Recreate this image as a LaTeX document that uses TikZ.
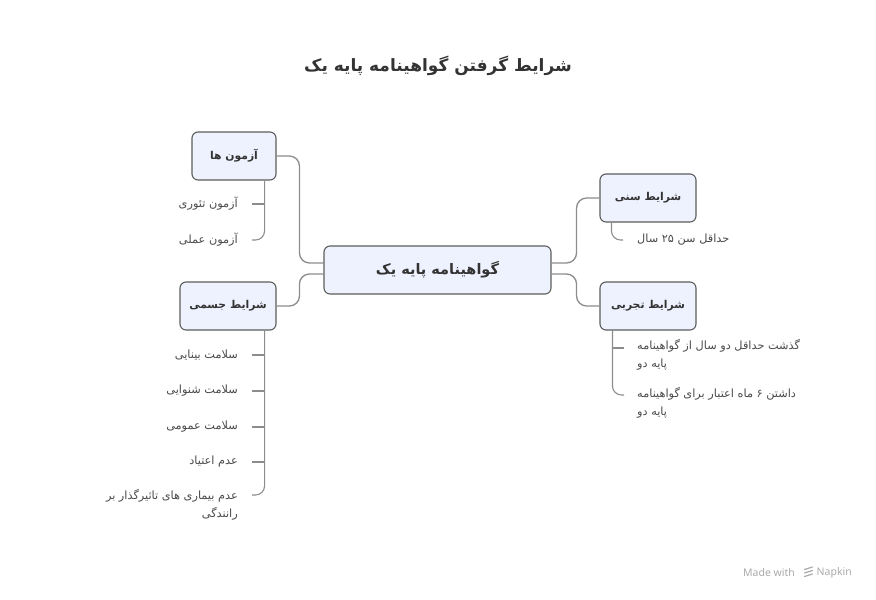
\documentclass[tikz,border=0pt]{standalone}
\usepackage{fontspec}
\setmainfont{DejaVu Sans}
\newfontfamily\fa[Script=Arabic]{DejaVu Sans}
\newfontfamily\wmfont{Noto Sans}
\TeXXeTstate=1
\usetikzlibrary{positioning}

\definecolor{boxfill}{HTML}{EEF2FE}
\definecolor{boxline}{HTML}{5C5C5C}
\definecolor{wire}{HTML}{8C8C8C}
\definecolor{inkdark}{HTML}{333333}
\definecolor{inkleaf}{HTML}{4A4A4A}
\definecolor{wmgray}{HTML}{AAAAAA}

\begin{document}
\begin{tikzpicture}
[x=1pt, y=-1pt,
hub/.style={draw=boxline, fill=boxfill, rounded corners=6pt, line width=1.1pt, minimum width=227pt, minimum height=48pt, text=inkdark, font=\fa\bfseries\fontsize{14.5}{18}\selectfont},
branch/.style={draw=boxline, fill=boxfill, rounded corners=6pt, line width=1.1pt, minimum width=96pt, minimum height=48pt, text=inkdark, font=\fa\bfseries\fontsize{10.8}{14}\selectfont},
leaf/.style={inner sep=0pt, text=inkleaf, font=\fa\fontsize{11.3}{18}\selectfont},
link/.style={wire, line width=1.3pt, rounded corners=10pt},
twig/.style={wire, line width=1.1pt, rounded corners=9pt}]
\useasboundingbox (0,0) rectangle (876,600);
% title
\node[text=inkdark, font=\fa\bfseries\fontsize{17}{20}\selectfont] (title) at (438,66) {\beginR شرایط گرفتن گواهینامه پایه یک\endR};
% hub and branches
\node[hub] (hub) at (437.5,270) {\beginR گواهینامه پایه یک\endR};
\node[branch, minimum width=84pt] (tests) at (234,156) {\beginR آزمون ها\endR};
\node[branch] (body) at (228,306) {\beginR شرایط جسمی\endR};
\node[branch] (age) at (648,198) {\beginR شرایط سنی\endR};
\node[branch] (exp) at (648,306) {\beginR شرایط تجربی\endR};
\draw[link] ([yshift=7pt]hub.west) -- ++(-24,0) |- (tests.east);
\draw[link] ([yshift=-4pt]hub.west) -- ++(-24,0) |- (body.east);
\draw[link] ([yshift=7pt]hub.east) -- ++(25,0) |- (age.west);
\draw[link] ([yshift=-4pt]hub.east) -- ++(25,0) |- (exp.west);
% tests
\node[leaf, anchor=east] (theory) at (238,204) {\beginR آزمون تئوری\endR};
\node[leaf, anchor=east] (practice) at (238,240) {\beginR آزمون عملی\endR};
\draw[twig] ([xshift=-12pt]tests.south east) |- ([xshift=14pt]practice.east);
\draw[twig] ([xshift=14pt]theory.east) -- ++(12,0);
% body
\node[leaf, anchor=east] (sight) at (238,355) {\beginR سلامت بینایی\endR};
\node[leaf, anchor=east] (hearing) at (238,391) {\beginR سلامت شنوایی\endR};
\node[leaf, anchor=east] (health) at (238,427) {\beginR سلامت عمومی\endR};
\node[leaf, anchor=east] (addict) at (238,462) {\beginR عدم اعتیاد\endR};
\node[leaf, anchor=base east, align=right] (illness) at (238,517) {\beginR عدم بیماری های تاثیرگذار بر\endR\\\beginR رانندگی\endR};
\draw[twig] ([xshift=-12pt]body.south east) |- ([xshift=14pt, yshift=22pt]illness.base east);
\foreach \n in {sight,hearing,health,addict}
  \draw[twig] ([xshift=14pt]\n.east) -- ++(12,0);
% age
\node[leaf, anchor=west] (minage) at (637,240) {\beginR حداقل سن ۲۵ سال\endR};
\draw[twig] ([xshift=12pt]age.south west) |- ([xshift=-14pt]minage.west);
% experience
\node[leaf, anchor=base west, align=left] (twoyears) at (637,367) {\beginR گذشت حداقل دو سال از گواهینامه\endR\\\beginR پایه دو\endR};
\node[leaf, anchor=base west, align=left] (sixmonths) at (637,415) {\beginR داشتن ۶ ماه اعتبار برای گواهینامه\endR\\\beginR پایه دو\endR};
\draw[twig] ([xshift=13pt]exp.south west) |- ([xshift=-13pt, yshift=20pt]sixmonths.base west);
\draw[twig] ([xshift=-13pt, yshift=19pt]twoyears.base west) -- ++(-11,0);
% watermark
\node[anchor=west, inner sep=0pt, text=wmgray, font=\wmfont\fontsize{10.5}{12}\selectfont] (made) at (743,573) {Made with};
\node[anchor=east, inner sep=0pt, text=wmgray, font=\wmfont\fontsize{10.5}{12}\selectfont] (napkin) at (852,573) {Napkin};
\foreach \k in {0,1,2}
  \draw[wmgray, line width=1.2pt, line cap=round] ([xshift=-12pt, yshift=3.5-3.5*\k pt]napkin.west) -- ++(8,-2.5);
\end{tikzpicture}
\end{document}
